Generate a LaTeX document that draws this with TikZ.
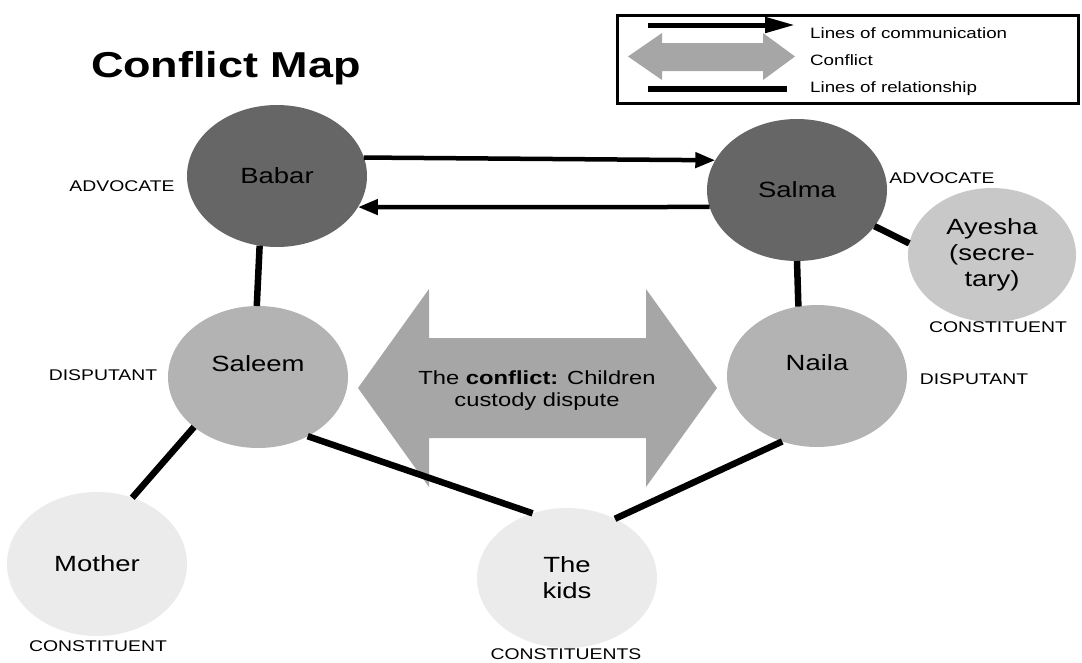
\documentclass[tikz,border=0pt]{standalone}
\usepackage{fontspec}
\setmainfont{Liberation Sans}[FakeStretch=1.25]
\usetikzlibrary{arrows.meta,shapes.geometric}

\definecolor{advocategray}{HTML}{666666}
\definecolor{disputantgray}{HTML}{B3B3B3}
\definecolor{secretarygray}{HTML}{C8C8C8}
\definecolor{constituentgray}{HTML}{EBEBEB}
\definecolor{conflictgray}{HTML}{A6A6A6}

\tikzset{
  person/.style={ellipse, minimum width=180pt, minimum height=142pt,
    inner sep=0pt, outer sep=0pt, align=center,
    font=\fontsize{22}{26}\selectfont},
  advocate/.style={person, fill=advocategray},
  disputant/.style={person, fill=disputantgray},
  constituent/.style={person, fill=constituentgray},
  role/.style={font=\fontsize{15.5}{18}\selectfont},
  keytext/.style={anchor=west, inner sep=0pt, font=\fontsize{15}{18}\selectfont},
  relation/.style={line width=6.5pt},
  talk/.style={line width=4.5pt, -{Triangle[length=20pt,width=15pt]}},
}

\begin{document}
\begin{tikzpicture}[x=1pt,y=-1pt]
\useasboundingbox (0,0) rectangle (1082,662);

\def\conflictarrow{(358,388) -- (429,289) -- (429,338) -- (646,338) -- (646,289)
  -- (717,388) -- (646,487) -- (646,438) -- (429,438) -- (429,487) -- cycle}
\def\keyarrow{(628,56.5) -- (662,33) -- (662,43) -- (763,43) -- (763,33)
  -- (795,56.5) -- (763,80) -- (763,71) -- (662,71) -- (662,80) -- cycle}

% legend
\draw[line width=3pt] (617,15) rectangle (1078,103);
\draw[line width=5pt, -{Triangle[length=30pt,width=15pt]}] (648,25) -- (795,25);
\fill[conflictgray] \keyarrow;
\draw[relation] (648,89) -- (787,89);
\node[keytext] (keytalk) at (810,33) {Lines of communication};
\node[keytext] (keyconflict) at (810,60) {Conflict};
\node[keytext] (keyrelation) at (810,89) {Lines of relationship};

\node[anchor=base, font=\fontsize{36}{40}\selectfont\bfseries] (title) at (226,77) {Conflict Map};

% the conflict
\fill[conflictgray] \conflictarrow;
\node[align=center, font=\fontsize{19}{22}\selectfont] (conflict) at (537,391)
  {The \textbf{conflict:} Children\\custody dispute};

% people
\node[advocate] (babar) at (277,176) {Babar};
\node[advocate] (salma) at (797,190) {Salma};
\node[constituent, fill=secretarygray, minimum width=168pt, minimum height=134pt]
  (ayesha) at (992,255) {Ayesha\\(secre-\\tary)};
\node[disputant, text depth=26pt] (saleem) at (258,377) {Saleem};
\node[disputant, text depth=26pt] (naila) at (817,376) {Naila};
\node[constituent, minimum height=144pt] (mother) at (97,564) {Mother};
\node[constituent, minimum height=140pt] (kids) at (567,578) {The\\kids};

% roles
\node[role] (babarrole) at (122,186) {ADVOCATE};
\node[role] (salmarole) at (942,178) {ADVOCATE};
\node[role] (ayesharole) at (998,327) {CONSTITUENT};
\node[role] (saleemrole) at (103,375) {DISPUTANT};
\node[role] (nailarole) at (974,379) {DISPUTANT};
\node[role] (motherrole) at (98,646) {CONSTITUENT};
\node[role] (kidsrole) at (566,654) {CONSTITUENTS};

% communication
\draw[talk] (babar.12) -- (salma.160);
\draw[talk] (salma.191) -- (babar.339);

% relationships
\draw[relation] (babar.256) -- (saleem.91);
\draw[relation] (salma.270) -- (naila.105);
\draw[relation] (salma.335) -- (ayesha.172);
\draw[relation] (saleem.218) -- (mother.62);
\draw[relation] (saleem.310) -- (kids.118);
\draw[relation] (naila.242) -- (kids.51);
\end{tikzpicture}
\end{document}
